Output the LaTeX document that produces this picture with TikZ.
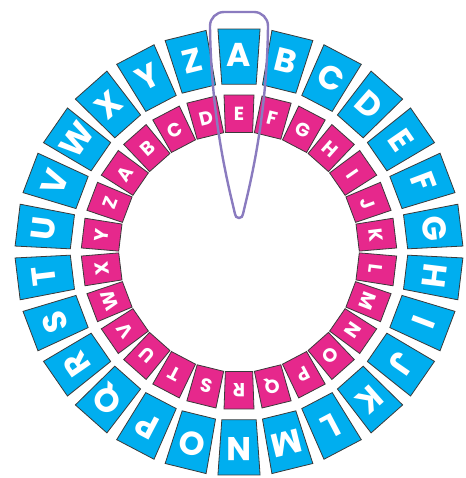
\documentclass[tikz,border=0pt]{standalone}
\usepackage{fontspec}
\newfontfamily\wheelfont{Poppins}
\usepackage{tikz}

\definecolor{wheelblue}{HTML}{00AEEF}
\definecolor{wheelpink}{HTML}{E6288C}
\definecolor{wheeledge}{HTML}{3A3A3A}
\definecolor{pointerpurple}{HTML}{8A7BBF}

\begin{document}
\begin{tikzpicture}[x=1pt, y=1pt,
	outerseg/.style={fill=wheelblue, draw=wheeledge, line width=0.8pt},
	innerseg/.style={fill=wheelpink, draw=wheeledge, line width=0.8pt},
	outerlbl/.style={text=white, font=\wheelfont\bfseries\fontsize{33}{33}\selectfont, inner sep=0pt},
	innerlbl/.style={text=white, font=\wheelfont\bfseries\fontsize{19}{19}\selectfont, inner sep=0pt}]
	\useasboundingbox (-239,-226) rectangle (226,252);
	% outer ring: plain alphabet, A on top
	\foreach \l [count=\i from 0] in {A,B,C,D,E,F,G,H,I,J,K,L,M,N,O,P,Q,R,S,T,U,V,W,X,Y,Z} {
		\pgfmathsetmacro{\t}{90-\i*360/26}
		\draw[outerseg] (\t+5.4:224) -- (\t-5.4:224) -- (\t-5.85:168.7) -- (\t+5.85:168.7) -- cycle;
		\node[outerlbl, rotate=\t-90] (o\i) at (\t:197) {\l};
	}
	% inner ring: shifted by four, E on top
	\foreach \l [count=\i from 0] in {E,F,G,H,I,J,K,L,M,N,O,P,Q,R,S,T,U,V,W,X,Y,Z,A,B,C,D} {
		\pgfmathsetmacro{\t}{90-\i*360/26}
		\draw[innerseg] (\t+5.45:157.7) -- (\t-5.45:157.7) -- (\t-6.5:120.3) -- (\t+6.5:120.3) -- cycle;
		\node[innerlbl, rotate=\t-90] (n\i) at (\t:138) {\l};
	}
	% pointer
	\draw[pointerpurple, line width=2.4pt]
		(-29,226) arc (180:90:14) -- (15,240) arc (90:0:14)
		.. controls (28,130) and (9,60) .. (4,38) arc (0:-180:4)
		.. controls (-9,60) and (-28,130) .. cycle;
\end{tikzpicture}
\end{document}
